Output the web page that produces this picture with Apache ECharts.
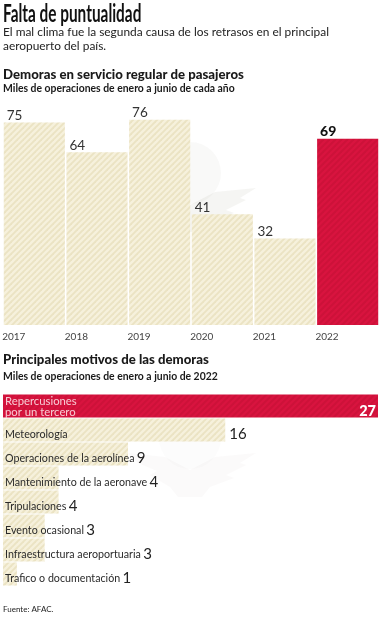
<!DOCTYPE html>
<html><head><meta charset="utf-8">
<style>html,body{margin:0;padding:0;background:#fff}#c{width:380px;height:620px}</style>
<script src="https://cdn.jsdelivr.net/npm/echarts@6/dist/echarts.min.js"></script>
</head><body><div id="c"></div>
<script>
const years = ['2017','2018','2019','2020','2021','2022'];
const delays = [75,64,76,41,32,69];
const reasons = ['Repercusiones\npor un tercero','Meteorología','Operaciones de la aerolínea','Mantenimiento de la aeronave','Tripulaciones','Evento ocasional','Infraestructura aeroportuaria','Trafico o documentación'];
const reasonValues = [27,16,9,4,4,3,3,1];
const highlightYear = '2022';
const highlightReason = 'Repercusiones\npor un tercero';
const FONT = 'Lato';

function hatch(base, stripe){
  const n=6, c=document.createElement('canvas'); c.width=n; c.height=n;
  const g=c.getContext('2d'); g.fillStyle=base; g.fillRect(0,0,n,n);
  g.strokeStyle=stripe; g.lineWidth=1.9;
  for(let k=-n;k<=2*n;k+=n){ g.beginPath(); g.moveTo(k,n+1); g.lineTo(k+n+2,-1); g.stroke(); }
  return {image:c, repeat:'repeat'};
}
const cream = hatch('#f6f1dc','#ebe3c3');
const red = hatch('#d8143f','#cc1239');

const chart = echarts.init(document.getElementById('c'),null,{renderer:'canvas'});
function txt(x,y,t,size,weight,color,sx){
  return {type:'text',x:x,y:y,scaleX:sx||1,z:20,silent:true,
    style:{text:t,font:`${weight} ${size}px ${FONT}`,fill:color||'#1c1c1c',textVerticalAlign:'top'}};
}
function emblem(dy,a){
  const f='rgba(120,110,90,'+a+')';
  return {type:'group',y:dy,z:15,silent:true,children:[
    {type:'circle',shape:{cx:190,cy:173,r:31},style:{fill:'rgba(120,110,90,'+(a*0.6)+')'}},
    {type:'polygon',shape:{points:[[128,188],[165,192],[190,205],[215,192],[256,188],[240,198],[246,200],[226,210],[234,213],[210,222],[202,232],[178,232],[170,222],[150,210],[157,206],[138,198]]},style:{fill:f}}
  ]};
}
chart.setOption({
  animation:false,
  backgroundColor:'#fff',
  textStyle:{fontFamily:FONT},
  graphic:[
    emblem(0,0.07),emblem(265,0.03),
    txt(3,1.5,'Falta de puntualidad',25,'700','#111',0.615),
    txt(3,26.5,'El mal clima fue la segunda causa de los retrasos en el principal',11.9,'400','#222'),
    txt(3,40,'aeropuerto del país.',11.9,'400','#222'),
    txt(3,68,'Demoras en servicio regular de pasajeros',13.2,'900','#1a1a1a'),
    txt(3,84,'Miles de operaciones de enero a junio de cada año',10.4,'700','#1a1a1a'),
    txt(3,353,'Principales motivos de las demoras',13.2,'900','#1a1a1a'),
    txt(3,372,'Miles de operaciones de enero a junio de 2022',10.4,'700','#1a1a1a'),
    txt(3,605,'Fuente: AFAC.',8,'400','#222')
  ],
  grid:[
    {left:3,right:1,top:109,height:216,outerBoundsMode:'none'},
    {left:3,right:2,top:394,height:192,outerBoundsMode:'none'}
  ],
  xAxis:[
    {type:'category',gridIndex:0,data:years,axisLine:{show:false},axisTick:{show:false},
     axisLabel:{color:'#444',fontSize:10,fontFamily:FONT,margin:7,align:'right',padding:[0,9,0,0],interval:0}},
    {type:'value',gridIndex:1,min:0,max:27,show:false}
  ],
  yAxis:[
    {type:'value',gridIndex:0,min:0,max:80,show:false},
    {type:'category',gridIndex:1,data:reasons,inverse:true,show:false}
  ],
  series:[
    {type:'bar',xAxisIndex:0,yAxisIndex:0,barCategoryGap:'2.5%',
     data:delays.map((v,i)=>({value:v,
       itemStyle:{color:years[i]===highlightYear?red:cream},
       label:years[i]===highlightYear?{fontWeight:900,color:'#111',fontSize:14}:{}})),
     label:{show:true,position:[3,-14],color:'#333',fontSize:13.5,fontFamily:FONT}},
    {type:'bar',xAxisIndex:1,yAxisIndex:1,barCategoryGap:'4%',z:3,
     data:reasonValues.map((v,i)=>({value:v,
       itemStyle:{color:reasons[i]===highlightReason?red:cream},
       label:{position:i===0?[2,1]:[2,i===1?9:8]}})),
     label:{show:true,color:'#222',fontFamily:FONT,
       formatter:p=>{
         if(p.dataIndex===0) return '{w|'+p.name.replace('\n','}\n{w|')+'}';
         if(p.dataIndex===1) return '{n|'+p.name+'}';
         return '{n|'+p.name+'}{s| }{v|'+p.value+'}';
       },
       rich:{n:{fontSize:10.7,color:'#2a2a2a',fontFamily:FONT,padding:[2,0,0,0]},
             s:{fontSize:9,fontFamily:FONT},
             v:{fontSize:15,color:'#222',fontFamily:FONT},
             w:{fontSize:11.3,color:'#f8ccd4',fontFamily:FONT,lineHeight:11.5}}}},
    {type:'bar',xAxisIndex:1,yAxisIndex:1,barGap:'-100%',barCategoryGap:'4%',z:4,
     data:reasonValues.map((v,i)=>({value:v,itemStyle:{color:'transparent'},
       label:i===0?{show:true,position:'insideRight',distance:2,offset:[0,5],formatter:'{c}',color:'#fff',fontWeight:900,fontSize:14.5,fontFamily:FONT}
         :i===1?{show:true,position:'right',distance:4,offset:[0,4],formatter:'{c}',color:'#222',fontSize:15,fontFamily:FONT}
         :{show:false}}))}
  ]
});
</script></body></html>
